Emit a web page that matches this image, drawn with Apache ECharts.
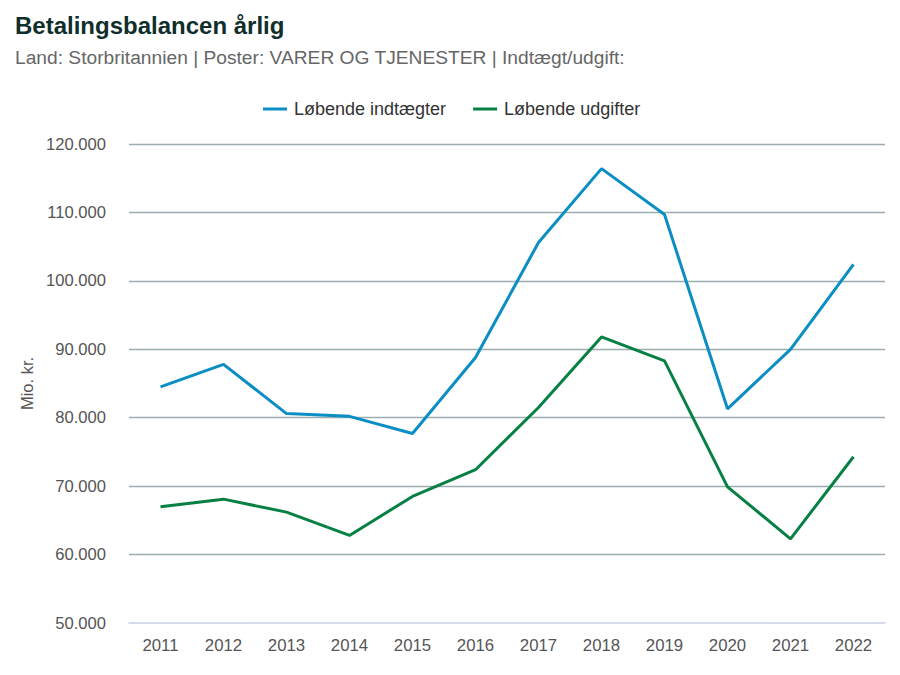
<!DOCTYPE html>
<html>
<head>
<meta charset="utf-8">
<script src="https://cdn.jsdelivr.net/npm/echarts@6/dist/echarts.min.js"></script>
<style>
  html, body { margin: 0; padding: 0; background: #fff; }
  #chart { width: 900px; height: 675px; }
</style>
</head>
<body>
<div id="chart"></div>
<script>
var years = ['2011','2012','2013','2014','2015','2016','2017','2018','2019','2020','2021','2022'];
var indtaegter = [84500, 87800, 80600, 80200, 77700, 88800, 105600, 116400, 109700, 81300, 90000, 102400];
var udgifter = [67000, 68100, 66200, 62800, 68500, 72400, 81500, 91800, 88300, 69900, 62300, 74300];
var seriesNames = ['Løbende indtægter', 'Løbende udgifter'];

var chart = echarts.init(document.getElementById('chart'), null, { renderer: 'svg' });

chart.setOption({
    animation: false,
    textStyle: { fontFamily: 'Liberation Sans' },
    title: {
        text: 'Betalingsbalancen årlig',
        subtext: 'Land: Storbritannien | Poster: VARER OG TJENESTER | Indtægt/udgift:',
        left: 15,
        top: 13,
        padding: 0,
        itemGap: 11,
        textStyle: { fontSize: 24, fontWeight: 'bold', color: '#0f2e2c' },
        subtextStyle: { fontSize: 19.2, color: '#666666' }
    },
    legend: {
        top: 95,
        left: 258,
        itemWidth: 24,
        itemGap: 27,
        icon: 'rect',
        itemHeight: 3,
        textStyle: { fontSize: 18, color: '#333333', padding: [0, 0, 0, 2] },
        data: seriesNames
    },
    grid: { left: 129, right: 15, top: 144, bottom: 52 },
    xAxis: {
        type: 'category',
        data: years,
        axisTick: { show: false },
        axisLine: { lineStyle: { color: '#ccd0e8', width: 1.5 } },
        axisLabel: { fontSize: 16.8, color: '#555555', margin: 14 }
    },
    yAxis: {
        type: 'value',
        min: 50000,
        max: 120000,
        interval: 10000,
        name: 'Mio. kr.',
        nameLocation: 'middle',
        nameGap: 94,
        nameTextStyle: { fontSize: 16.5, color: '#555555' },
        axisLine: { show: false },
        axisTick: { show: false },
        splitLine: {
            lineStyle: { width: 1.3, color: '#9aadb0' },
            showMinLine: false // bottom line belongs to the x axis, keep it light
        },
        axisLabel: {
            fontSize: 16.6,
            color: '#555555',
            margin: 23,
            padding: [4, 0, 0, 0],
            formatter: function (v) { return String(v).replace(/\B(?=(\d{3})+$)/g, '.'); }
        }
    },
    series: [
        { name: seriesNames[0], type: 'line', data: indtaegter, showSymbol: false, lineStyle: { width: 3, color: '#0a8ec4' }, itemStyle: { color: '#0a8ec4' } },
        { name: seriesNames[1], type: 'line', data: udgifter, showSymbol: false, lineStyle: { width: 3, color: '#068043' }, itemStyle: { color: '#068043' } }
    ]
});
</script>
</body>
</html>
